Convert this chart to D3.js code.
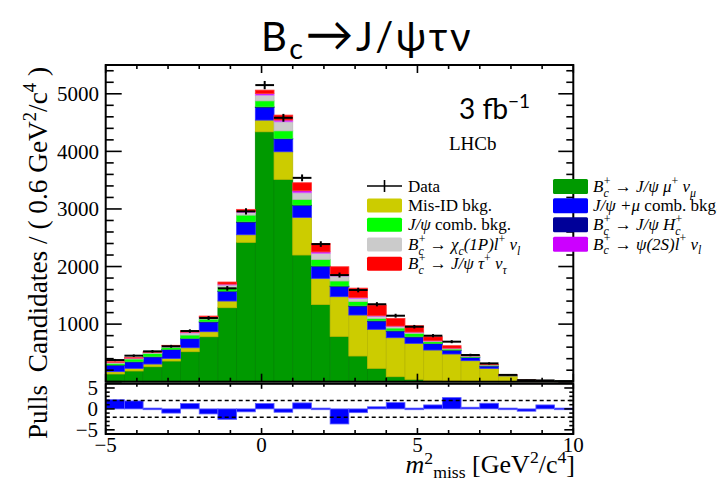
<!DOCTYPE html>
<html>
<head>
<meta charset="utf-8">
<script src="https://cdn.jsdelivr.net/npm/d3@7"></script>
<style>
  html, body { margin: 0; padding: 0; background: #fff; }
  svg { display: block; }
</style>
</head>
<body>
<svg id="chart" width="717" height="481"></svg>
<script>
// ---------------- DATA ----------------
// bin edges: -5 .. 10 in steps of 0.6 (25 bins)
const binLow = [-5.0,-4.4,-3.8,-3.2,-2.6,-2.0,-1.4,-0.8,-0.2,0.4,1.0,1.6,2.2,2.8,3.4,4.0,4.6,5.2,5.8,6.4,7.0,7.6,8.2,8.8,9.4];
const binWidth = 0.6;

// stacked components (bottom -> top)
const sigMu   = [134,186,260,359,521,781,1285,2420,4340,3514,2200,1340,787,446,232,87,41,17,10,5,3,1,0,0,0];
const misID   = [40,46,47,46,69,87,116,132,203,479,654,455,689,712,678,677,625,533,471,360,229,100,22,13,7];
const combMu  = [110,110,122,152,157,166,165,216,220,222,204,204,175,151,141,114,108,110,64,55,40,12,4,3,2];
const hc      = [6,5,5,6,7,8,8,10,11,10,10,10,10,10,8,7,7,6,5,4,3,1,0,0,0];
const combJpsi= [29,47,58,34,57,46,65,116,104,132,99,116,89,76,41,47,59,29,18,18,14,3,2,1,1];
const chic    = [14,12,14,17,35,24,40,45,99,157,114,104,85,52,36,28,17,12,12,5,4,1,1,1,0];
const psi2s   = [4,4,5,6,14,10,16,14,27,30,35,25,20,15,10,7,5,4,3,2,2,1,0,0,0];
const tauNu   = [10,8,10,12,25,18,36,40,60,86,139,146,141,163,185,133,110,70,42,6,5,1,1,0,0];

const dataCounts = [376,452,527,615,880,1106,1621,2958,5151,4583,3540,2390,1852,1592,1345,1146,955,799,695,464,318,118,27,22,10];
const pulls = [2.2,1.9,0.15,-1.0,1.27,-1.2,-2.5,-0.7,1.27,-0.8,1.43,-0.3,-3.6,-0.9,0.5,1.5,-0.15,0.95,2.7,0.4,1.35,-0.15,-0.55,0.95,-0.1];

const yTicksMain = [1000,2000,3000,4000,5000];
const xTicks = [-5,0,5,10];
const pullTicks = [-5,0,5];

const layerNames = ["sigMu","misID","combMu","hc","combJpsi","chic","psi2s","tauNu"];
const layerValues = [sigMu, misID, combMu, hc, combJpsi, chic, psi2s, tauNu];
const layerColors = ["#009a00","#cccc00","#0000ff","#000099","#00ff00","#cbcbcb","#cc00ff","#ff0000"];
const layerStroke = ["#008800","#b8b800","#3333ff","#000077","#33ee33","#bbbbbb","#dd66ff","#ff3333"];

// ---------------- LAYOUT ----------------
const svg = d3.select("#chart");
const X0 = 105.7, X1 = 573.3;
const MT = 65, MB = 381.7;     // main frame
const PT = 383.8, PB = 434;    // pull frame
const serif = "'Liberation Serif','Times New Roman',serif";
const sans = "Lato,'Open Sans',sans-serif";

const x = d3.scaleLinear().domain([-5,10]).range([X0,X1]);
const y = d3.scaleLinear().domain([0,5500]).range([MB,MT]);
const yp = d3.scaleLinear().domain([-6,6]).range([PB,PT]);

// ---------------- STACK ----------------
const rows = binLow.map((b,i) => {
  const r = {lo:b};
  layerNames.forEach((n,k)=> r[n] = layerValues[k][i]);
  return r;
});
const stack = d3.stack().keys(layerNames)(rows);
const gStack = svg.append("g");
stack.forEach((layer,k) => {
  gStack.selectAll(null).data(layer).enter().append("rect")
    .attr("x", d => x(d.data.lo))
    .attr("width", d => x(d.data.lo + binWidth) - x(d.data.lo))
    .attr("y", d => y(d[1]))
    .attr("height", d => Math.max(0, y(d[0]) - y(d[1])))
    .attr("fill", layerColors[k])
    .attr("stroke", layerStroke[k])
    .attr("stroke-width", 0.8);
});

// ---------------- DATA POINTS ----------------
const gData = svg.append("g").attr("stroke","#000").attr("stroke-width",2);
dataCounts.forEach((n,i) => {
  const lo = binLow[i];
  gData.append("line").attr("x1", x(lo)).attr("x2", x(lo+binWidth))
    .attr("y1", y(n)).attr("y2", y(n));
  const e = Math.sqrt(n);
  gData.append("line").attr("x1", x(lo+binWidth/2)).attr("x2", x(lo+binWidth/2))
    .attr("y1", y(n-e)).attr("y2", y(n+e));
});

// ---------------- PULLS ----------------
const gPull = svg.append("g");
pulls.forEach((p,i) => {
  const lo = binLow[i];
  const ya = yp(Math.max(p,0)), yb = yp(Math.min(p,0));
  let h = yb - ya; let yy = ya;
  if (h < 1.6) { yy = yp(0) - 0.8; h = 1.6; }
  gPull.append("rect").attr("x", x(lo)).attr("width", x(lo+binWidth)-x(lo))
    .attr("y", yy).attr("height", h)
    .attr("fill","#0000ff").attr("stroke","#5a5aff").attr("stroke-width",0.8);
});
[-2,2].forEach(v => {
  svg.append("line").attr("x1",X0).attr("x2",X1).attr("y1",yp(v)).attr("y2",yp(v))
    .attr("stroke","#000").attr("stroke-width",1.5).attr("stroke-dasharray","4,3");
});

// ---------------- FRAMES & TICKS ----------------
function frame(top, bottom){
  svg.append("rect").attr("x",X0).attr("y",top).attr("width",X1-X0).attr("height",bottom-top)
    .attr("fill","none").attr("stroke","#000").attr("stroke-width",2);
}
frame(MT, MB);
frame(PT, PB);

const gT = svg.append("g").attr("stroke","#000").attr("stroke-width",1.6);
d3.range(0, 5500, 200).forEach(v => {
  const major = v % 1000 === 0;
  const yy = y(v);
  gT.append("line").attr("x1",X0).attr("x2",X0 + (major?16:8)).attr("y1",yy).attr("y2",yy);
  gT.append("line").attr("x1",X1).attr("x2",X1 - (major?15:7)).attr("y1",yy).attr("y2",yy);
});
d3.range(-5, 10.01, 1).forEach(v => {
  const major = v % 5 === 0;
  const xx = x(v);
  gT.append("line").attr("x1",xx).attr("x2",xx).attr("y1",MB).attr("y2",MB-(major?8:4));
  gT.append("line").attr("x1",xx).attr("x2",xx).attr("y1",MT).attr("y2",MT+(major?8:4));
  gT.append("line").attr("x1",xx).attr("x2",xx).attr("y1",PB).attr("y2",PB-(major?6:4));
  gT.append("line").attr("x1",xx).attr("x2",xx).attr("y1",PT).attr("y2",PT+(major?5:3));
});
d3.range(-5, 5.01, 1).forEach(v => {
  const major = v % 5 === 0;
  const yy = yp(v);
  gT.append("line").attr("x1",X0).attr("x2",X0+(major?9:4)).attr("y1",yy).attr("y2",yy);
  gT.append("line").attr("x1",X1).attr("x2",X1-(major?9:4)).attr("y1",yy).attr("y2",yy);
});

// ---------------- LABELS ----------------
yTicksMain.forEach(v => {
  svg.append("text").attr("x", 99).attr("y", y(v)).attr("dy","0.35em")
    .attr("text-anchor","end").attr("font-family",serif).attr("font-size",21).text(v);
});
xTicks.forEach(v => {
  svg.append("text").attr("x", x(v)).attr("y", 452)
    .attr("text-anchor","middle").attr("font-family",serif).attr("font-size",21)
    .text(v < 0 ? "\u2212" + Math.abs(v) : v);
});
pullTicks.forEach(v => {
  svg.append("text").attr("x", 98).attr("y", yp(v)).attr("dy","0.35em")
    .attr("text-anchor","end").attr("font-family",serif).attr("font-size",21)
    .text(v < 0 ? "\u2212" + Math.abs(v) : v);
});

// rich text helper: parts = [text, shift(px; negative = up), sizeFactor, italic, dx]
function rich(parent, xx, yy, size, family, parts, anchor){
  const t = parent.append("text").attr("x",xx).attr("y",yy)
    .attr("font-family",family).attr("font-size",size)
    .attr("text-anchor",anchor||"start");
  let cur = 0;
  parts.forEach(p => {
    const [txt, shift, sf, it, dx] = p;
    const ts = t.append("tspan").text(txt)
      .attr("dy", (shift||0) - cur)
      .attr("font-size", size*(sf||1));
    if (it) ts.attr("font-style","italic");
    if (dx) ts.attr("dx", dx);
    cur = shift||0;
  });
  return t;
}

// Title
rich(svg, 367, 51, 40, sans, [
  ["B",0,1,false],["c",8,0.72,false],["\u2192",0,1.2,false],["J/\u03C8\u03C4\u03BD",0,1,false]
], "middle").attr("letter-spacing", 2.5);

// 3 fb^-1
rich(svg, 459, 119, 28, sans, [["3 fb",0,1,false],["\u22121",-11,0.68,false]]);
svg.append("text").attr("x",449).attr("y",150).attr("font-family",serif).attr("font-size",19).text("LHCb");

// Axis titles
const yt = svg.append("g").attr("transform","translate(47,67) rotate(-90)");
rich(yt, 0, 0, 27.3, serif, [
  ["Candidates / ( 0.6 GeV",0,1,false],["2",-11,0.68,false],["/c",0,1,false],["4",-11,0.68,false],[" )",0,1,false]
], "end");
const pt = svg.append("g").attr("transform","translate(47,385) rotate(-90)");
rich(pt, 0, 0, 27, serif, [["Pulls",0,1,false]], "end");

rich(svg, 575, 473, 26, serif, [
  ["m",0,1,true],["2",-9,0.68,false],["miss",5,0.68,false],[" [GeV",0,1,false],["2",-10,0.68,false],["/c",0,1,false],["4",-10,0.68,false],["]",0,1,false]
], "end");

// ---------------- LEGEND ----------------
const lg = svg.append("g");
const LS = 17;
const sub = 4.5, sup = -7.5, sf = 0.7;
const leftRows = [186, 205.5, 224.8, 244.5, 263.8];
const rightRows = [186.6, 205.8, 224.8, 244.2];
lg.append("line").attr("x1",367).attr("x2",402).attr("y1",leftRows[0]).attr("y2",leftRows[0]).attr("stroke","#000").attr("stroke-width",1.6);
lg.append("line").attr("x1",384.5).attr("x2",384.5).attr("y1",leftRows[0]-6).attr("y2",leftRows[0]+6).attr("stroke","#000").attr("stroke-width",1.6);
const boxL = ["#cccc00","#00ff00","#cbcbcb","#ff0000"];
boxL.forEach((c,i) => {
  lg.append("rect").attr("x",367).attr("y",leftRows[i+1]-7).attr("width",35).attr("height",14)
    .attr("rx",1.5).attr("fill",c);
});
const boxR = ["#009a00","#0000ff","#000099","#cc00ff"];
boxR.forEach((c,i) => {
  lg.append("rect").attr("x",553).attr("y",rightRows[i]-7.5).attr("width",35).attr("height",15)
    .attr("rx",1.5).attr("fill",c);
});
const tx = 408, txR = 593, bo = 5.5;
rich(lg, tx, leftRows[0]+bo, LS, serif, [["Data",0,1,false]]);
rich(lg, tx, leftRows[1]+bo, LS, serif, [["Mis-ID bkg.",0,1,false]]);
rich(lg, tx, leftRows[2]+bo, LS, serif, [["J/\u03C8",0,1,true],["  comb. bkg.",0,1,false]]);
rich(lg, tx, leftRows[3]+bo, LS, serif, [
  ["B",0,1,true],["c",sub,sf,true],["+",sup,sf,false,-5],["  \u2192 ",0,1,false],["\u03C7",0,1,true],["c",sub,sf,true],["(1P)l",0,1,true],["+",sup,sf,false],[" \u03BD",0,1,true],["l",sub,sf,true]
]);
rich(lg, tx, leftRows[4]+bo, LS, serif, [
  ["B",0,1,true],["c",sub,sf,true],["+",sup,sf,false,-5],["  \u2192 ",0,1,false],["J/\u03C8 \u03C4",0,1,true],["+",sup,sf,false],[" \u03BD",0,1,true],["\u03C4",sub,sf,true]
]);
rich(lg, txR, rightRows[0]+bo, LS, serif, [
  ["B",0,1,true],["c",sub,sf,true],["+",sup,sf,false,-5],["  \u2192 ",0,1,false],["J/\u03C8 \u03BC",0,1,true],["+",sup,sf,false],[" \u03BD",0,1,true],["\u03BC",sub,sf,true]
]);
rich(lg, txR, rightRows[1]+bo, LS, serif, [["J/\u03C8 +\u03BC",0,1,true],[" comb. bkg.",0,1,false]]);
rich(lg, txR, rightRows[2]+bo, LS, serif, [
  ["B",0,1,true],["c",sub,sf,true],["+",sup,sf,false,-5],["  \u2192 ",0,1,false],["J/\u03C8 H",0,1,true],["c",sub,sf,true],["+",sup,sf,false,-5]
]);
rich(lg, txR, rightRows[3]+bo, LS, serif, [
  ["B",0,1,true],["c",sub,sf,true],["+",sup,sf,false,-5],["  \u2192  ",0,1,false],["\u03C8(2S)l",0,1,true],["+",sup,sf,false],[" \u03BD",0,1,true],["l",sub,sf,true]
]);
</script>
</body>
</html>
